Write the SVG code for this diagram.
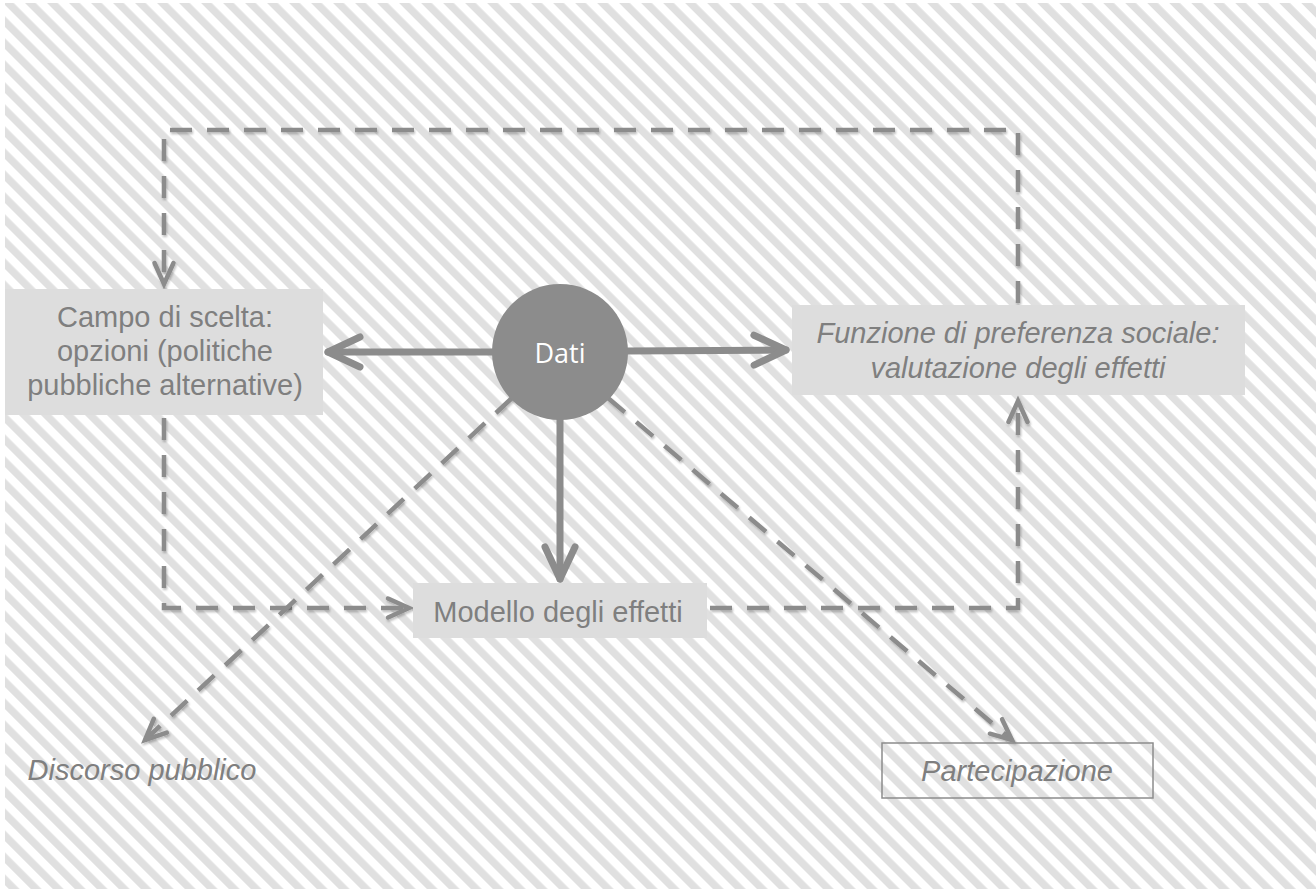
<svg xmlns="http://www.w3.org/2000/svg" width="1316" height="894" viewBox="0 0 1316 894">
  <style>
    .box { fill: #dddddd; }
    .lbl { font-family: "Liberation Sans", Arial, sans-serif; font-size: 29px; fill: #7f7f7f; text-anchor: middle; }
    .it { font-style: italic; }
    .solid { fill: none; stroke: #8c8c8c; stroke-width: 7; stroke-linecap: round; }
    .dash { fill: none; stroke: #8c8c8c; stroke-width: 4.5; stroke-dasharray: 22 15; filter: url(#sh); }
    .headS { fill: none; stroke: #8c8c8c; stroke-width: 7; stroke-linecap: round; stroke-linejoin: round; }
    .headD { fill: none; stroke: #8c8c8c; stroke-width: 4.5; stroke-linecap: round; stroke-linejoin: miter; }
  </style>
  <defs>
    <pattern id="stripes" patternUnits="userSpaceOnUse" width="15.56" height="15.56" patternTransform="rotate(-45)">
      <rect x="0" y="0" width="15.56" height="15.56" fill="#ffffff"/>
      <rect x="0" y="0" width="7.5" height="15.56" fill="#e0e0e0"/>
    </pattern>
    <filter id="sh" x="-10%" y="-10%" width="120%" height="120%">
      <feDropShadow dx="1" dy="2" stdDeviation="1.2" flood-color="#000" flood-opacity="0.25"/>
    </filter>
    <marker id="arrS" markerUnits="userSpaceOnUse" markerWidth="60" markerHeight="60" refX="0" refY="0" orient="auto" overflow="visible">
      <path class="headS" d="M-32,-15 L0,0 L-32,15"/>
    </marker>
    <marker id="arrD" markerUnits="userSpaceOnUse" markerWidth="40" markerHeight="40" refX="0" refY="0" orient="auto" overflow="visible">
      <path class="headD" d="M-21,-9.5 L0,0 L-21,9.5"/>
    </marker>
  </defs>

  <rect x="0" y="0" width="1316" height="894" fill="#ffffff"/>
  <rect x="5" y="3" width="1311" height="886" fill="url(#stripes)"/>

  <g id="connectors">
    <!-- dashed feedback loop -->
    <path class="dash" d="M1018,303 V130 H164 V284" marker-end="url(#arrD)"/>
    <path class="dash" d="M164,418 V608 H409" marker-end="url(#arrD)"/>
    <path class="dash" d="M710,608 H1018 V401" marker-end="url(#arrD)"/>
    <!-- dashed diagonals -->
    <path class="dash" d="M512,398 L145,740" marker-end="url(#arrD)"/>
    <path class="dash" d="M608,398 L1012,740" marker-end="url(#arrD)"/>
    <!-- solid arrows -->
    <path class="solid" d="M494,352 L328,352" marker-end="url(#arrS)"/>
    <path class="solid" d="M626,351 L786,350" marker-end="url(#arrS)"/>
    <path class="solid" d="M560,418 L560,579" marker-end="url(#arrS)"/>
  </g>

  <g id="campo">
    <rect class="box" x="5" y="289" width="318" height="126"/>
    <text class="lbl" x="165" y="327">Campo di scelta:</text>
    <text class="lbl" x="165" y="361">opzioni (politiche</text>
    <text class="lbl" x="165" y="395">pubbliche alternative)</text>
  </g>

  <g id="funzione">
    <rect class="box" x="792" y="305" width="453" height="90"/>
    <text class="lbl it" x="1018" y="343">Funzione di preferenza sociale:</text>
    <text class="lbl it" x="1018" y="378">valutazione degli effetti</text>
  </g>

  <g id="modello">
    <rect class="box" x="413" y="583" width="294" height="55"/>
    <text class="lbl" x="558" y="622">Modello degli effetti</text>
  </g>

  <g id="dati">
    <circle cx="560" cy="352" r="68" fill="#8c8c8c"/>
    <text x="560" y="363" font-family="'Open Sans', 'Noto Sans', sans-serif" font-size="27" fill="#ffffff" text-anchor="middle">Dati</text>
  </g>

  <g id="discorso">
    <text class="lbl it" x="142" y="780">Discorso pubblico</text>
  </g>

  <g id="partecipazione">
    <rect x="882" y="743" width="271" height="55" fill="none" stroke="#8c8c8c" stroke-width="1.5"/>
    <text class="lbl it" x="1017" y="781">Partecipazione</text>
  </g>
</svg>
